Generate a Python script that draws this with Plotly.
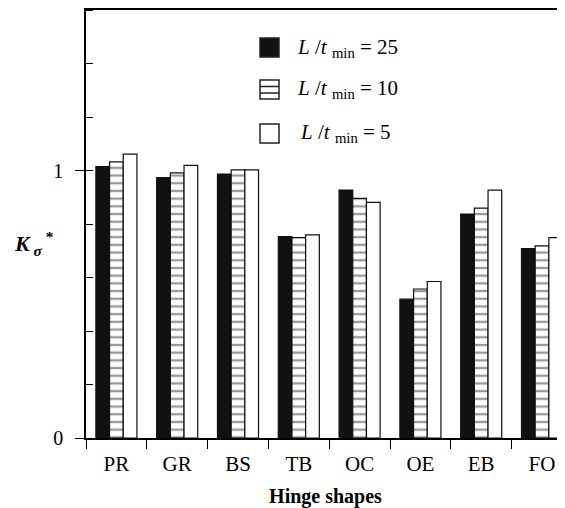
import plotly.graph_objects as go

categories = ["PR", "GR", "BS", "TB", "OC", "OE", "EB", "FO"]
series_names = ["<i>L</i> /<i>t</i> <sub>min</sub> = 25",
                "<i>L</i> /<i>t</i> <sub>min</sub> = 10",
                "<i>L</i> /<i>t</i> <sub>min</sub> = 5"]
vals_25 = [1.015, 0.973, 0.987, 0.753, 0.927, 0.519, 0.837, 0.708]
vals_10 = [1.032, 0.991, 1.002, 0.749, 0.896, 0.557, 0.859, 0.718]
vals_5 = [1.061, 1.019, 1.002, 0.759, 0.881, 0.585, 0.927, 0.749]
y_ticks = [0, 1]

xpos = list(range(len(categories)))
font_family = "Liberation Serif, Times New Roman, serif"

# page is offset by the body margin (8px); plot area spans window x 86..565, y 10..438
W, H = 557, 500
ML, MT, MB = 78, 2, 70
PW, PH = W - ML, H - MT - MB


def px(X):
    return (X - 8 - ML) / PW


def py(Y):
    return (H - MB + 8 - Y) / PH


fig = go.Figure()
fig.add_trace(go.Bar(x=xpos, y=vals_25, name=series_names[0],
                     marker=dict(color="#111111", line=dict(color="#111111", width=1.2))))
fig.add_trace(go.Bar(x=xpos, y=vals_10, name=series_names[1],
                     marker=dict(color="white", line=dict(color="#111111", width=1.2),
                                 pattern=dict(shape="-", fgcolor="#333333", bgcolor="white",
                                              size=7.7, solidity=0.3))))
fig.add_trace(go.Bar(x=xpos, y=vals_5, name=series_names[2],
                     marker=dict(color="white", line=dict(color="#111111", width=1.2))))

fig.update_layout(
    width=W, height=H,
    margin=dict(l=ML, r=0, t=MT, b=MB),
    paper_bgcolor="white", plot_bgcolor="white",
    barmode="group", bargap=0.325, bargroupgap=0,
    font=dict(family=font_family, size=18, color="black"),
    showlegend=False,
)
fig.update_xaxes(
    range=[-0.5, 7.378],
    tickvals=xpos, ticktext=categories, ticks="", ticklabelstandoff=6,
    showline=True, linecolor="black", linewidth=1.5, mirror=True,
    showgrid=False, zeroline=False,
    minor=dict(tick0=-0.5, dtick=1, ticks="outside", ticklen=9,
               tickcolor="black", tickwidth=1.2, showgrid=False),
    tickfont=dict(size=21, family=font_family),
    title=dict(text="<b>Hinge shapes</b>", font=dict(size=20, family=font_family), standoff=16),
)
fig.update_yaxes(
    range=[0, 1.6],
    tickvals=y_ticks, ticktext=[str(v) for v in y_ticks],
    ticks="outside", ticklen=9, tickcolor="black", tickwidth=1.2, ticklabelstandoff=8,
    showline=True, linecolor="black", linewidth=1.5,
    showgrid=False, zeroline=False,
    minor=dict(tick0=0, dtick=0.2, ticks="inside", ticklen=7,
               tickcolor="black", tickwidth=1.2, showgrid=False),
    tickfont=dict(size=20, family=font_family),
)
fig.add_annotation(
    xref="paper", yref="paper", x=px(12), y=py(243), xanchor="left", yanchor="middle",
    text="<b><i>K</i></b><sub><b><i> σ</i></b></sub><sup><b> *</b></sup>",
    showarrow=False, font=dict(size=22, family=font_family),
)

# custom legend (squares 19px)
legend_rows = [(38, 57), (80, 99), (124, 143)]
for i, (y0, y1) in enumerate(legend_rows):
    fill = "#111111" if i == 0 else "white"
    fig.add_shape(type="rect", xref="paper", yref="paper",
                  x0=px(260), x1=px(279), y0=py(y1), y1=py(y0),
                  fillcolor=fill, line=dict(color="#222222", width=1.5))
    if i == 1:
        for yy in (y0 + 6.5, y0 + 13):
            fig.add_shape(type="line", xref="paper", yref="paper",
                          x0=px(260), x1=px(279), y0=py(yy), y1=py(yy),
                          line=dict(color="#222222", width=1.5))
    fig.add_annotation(xref="paper", yref="paper", x=px(295 + (3 if i == 2 else 0)),
                       y=py((y0 + y1) / 2), xanchor="left", yanchor="middle",
                       text=series_names[i], showarrow=False,
                       font=dict(size=21, family=font_family))

fig.write_html("out.html")
